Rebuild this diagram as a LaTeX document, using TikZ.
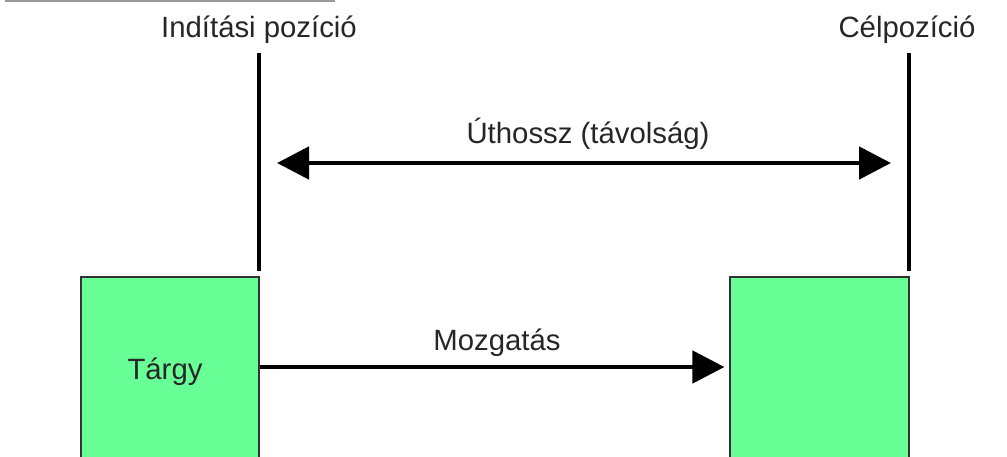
\documentclass[tikz,border=0pt]{standalone}
\usepackage{fontspec}
\setmainfont{Liberation Sans}
\usetikzlibrary{arrows.meta}
\definecolor{boxgreen}{RGB}{104,255,150}
\definecolor{boxedge}{RGB}{50,50,50}
\begin{document}
\begin{tikzpicture}[x=0.75pt,y=-0.75pt,
  every node/.style={font=\fontsize{22}{26}\selectfont, text=black!85},
  objbox/.style={draw=boxedge, line width=1.6pt, fill=boxgreen, minimum width=134pt, minimum height=142.5pt, inner sep=0pt},
  posline/.style={line width=3pt, black},
  bigarrow/.style={line width=3.6pt, black, arrows={-Triangle[length=24pt,width=24pt]}},
  dblarrow/.style={line width=3.6pt, black, arrows={Triangle[length=24pt,width=24pt]-Triangle[length=24pt,width=24pt]}},
  lbl/.style={anchor=base, inner sep=0pt}
]
\clip (0,0) rectangle (1007,457);
\fill[white] (0,0) rectangle (1007,457);
% top grey rule
\coordinate (ruleA) at (5,1);
\coordinate (ruleB) at (335,1);
\draw[line width=1.5pt, black!40] (ruleA) -- (ruleB);

% boxes (extend beyond the lower edge)
\node[objbox] (targy) at (170,372) {};
\node[objbox] (cel) at (819.5,372) {};
\node[lbl] (targylbl) at (165,379) {Tárgy};

% position lines
\coordinate (startTop) at (259,53);
\coordinate (startBot) at (259,271);
\coordinate (endTop) at (909,53);
\coordinate (endBot) at (909,271);
\draw[posline] (startTop) -- (startBot);
\draw[posline] (endTop) -- (endBot);
\node[lbl] (startlbl) at (259,37) {Indítási pozíció};
\node[lbl] (endlbl) at (907,37) {Célpozíció};

% path length arrow
\coordinate (uA) at (277,163);
\coordinate (uB) at (891,163);
\draw[dblarrow] (uA) -- (uB);
\node[lbl] (uthossz) at (588,143) {Úthossz (távolság)};

% movement arrow
\draw[bigarrow, shorten >=3.5pt] ([yshift=3.75pt]targy.east) -- ([yshift=3.75pt]cel.west);
\node[lbl] (mozg) at (497,350) {Mozgatás};
\end{tikzpicture}
\end{document}
